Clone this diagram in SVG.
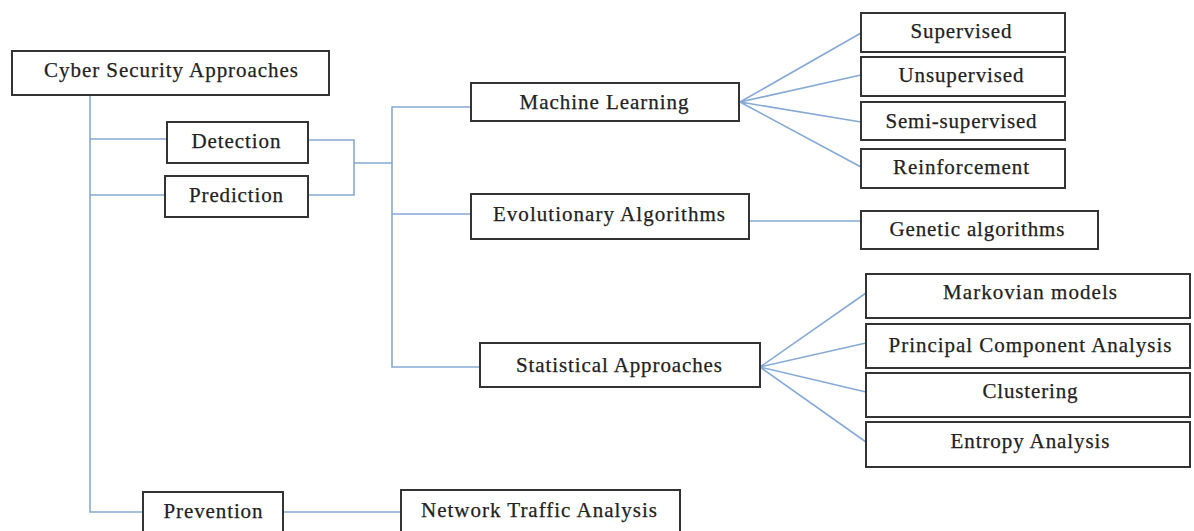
<svg xmlns="http://www.w3.org/2000/svg" width="1194" height="531" viewBox="0 0 1194 531">
<style>
.box{fill:#fff;stroke:#333;stroke-width:2}
.lbl{font-family:"Liberation Serif","Times New Roman",serif;font-size:21px;fill:#222;text-anchor:middle;stroke:#222;stroke-width:0.25}
.con{fill:none;stroke:#86a9d6;stroke-width:1.6}
</style>
<rect width="1194" height="531" fill="#fff"/>
<g id="connectors" class="con">
<path d="M90,95 V512 H143"/>
<path d="M90,139 H167"/>
<path d="M90,195 H165"/>
<path d="M308,140 H354 V195 H308"/>
<path d="M354,163 H392"/>
<path d="M471,107 H392 V367 H480"/>
<path d="M392,214 H471"/>
<path d="M749,221 H861"/>
<path d="M283,512 H401"/>
<path d="M740,102 L861,33 M740,102 L861,75 M740,102 L861,122 M740,102 L861,167"/>
<path d="M760,367 L866,293 M760,367 L866,343 M760,367 L866,392 M760,367 L866,442"/>
</g>
<g id="root"><rect class="box" x="12" y="51" width="317" height="44"/><text class="lbl" x="171" y="77" textLength="254" lengthAdjust="spacing">Cyber Security Approaches</text></g>
<g id="detection"><rect class="box" x="167" y="122" width="141" height="41"/><text class="lbl" x="236" y="148" textLength="89" lengthAdjust="spacing">Detection</text></g>
<g id="prediction"><rect class="box" x="165" y="176" width="143" height="41"/><text class="lbl" x="236" y="202" textLength="94" lengthAdjust="spacing">Prediction</text></g>
<g id="prevention"><rect class="box" x="143" y="492" width="140" height="50"/><text class="lbl" x="213" y="518" textLength="99" lengthAdjust="spacing">Prevention</text></g>
<g id="network-traffic"><rect class="box" x="401" y="490" width="279" height="52"/><text class="lbl" x="539" y="517" textLength="236" lengthAdjust="spacing">Network Traffic Analysis</text></g>
<g id="machine-learning"><rect class="box" x="471" y="83" width="268" height="38"/><text class="lbl" x="604" y="109" textLength="169" lengthAdjust="spacing">Machine Learning</text></g>
<g id="evolutionary"><rect class="box" x="471" y="194" width="278" height="45"/><text class="lbl" x="609" y="221" textLength="232" lengthAdjust="spacing">Evolutionary Algorithms</text></g>
<g id="statistical"><rect class="box" x="480" y="343" width="280" height="44"/><text class="lbl" x="619" y="372" textLength="206" lengthAdjust="spacing">Statistical Approaches</text></g>
<g id="supervised"><rect class="box" x="861" y="13" width="204" height="39"/><text class="lbl" x="961" y="38" textLength="101" lengthAdjust="spacing">Supervised</text></g>
<g id="unsupervised"><rect class="box" x="861" y="57" width="204" height="39"/><text class="lbl" x="961" y="82" textLength="125" lengthAdjust="spacing">Unsupervised</text></g>
<g id="semi-supervised"><rect class="box" x="861" y="102" width="204" height="38"/><text class="lbl" x="961" y="128" textLength="151" lengthAdjust="spacing">Semi-supervised</text></g>
<g id="reinforcement"><rect class="box" x="861" y="149" width="204" height="39"/><text class="lbl" x="961" y="174" textLength="136" lengthAdjust="spacing">Reinforcement</text></g>
<g id="genetic"><rect class="box" x="861" y="211" width="237" height="38"/><text class="lbl" x="977" y="236" textLength="175" lengthAdjust="spacing">Genetic algorithms</text></g>
<g id="markovian"><rect class="box" x="866" y="274" width="324" height="44"/><text class="lbl" x="1030" y="299" textLength="174" lengthAdjust="spacing">Markovian models</text></g>
<g id="pca"><rect class="box" x="866" y="324" width="324" height="44"/><text class="lbl" x="1030" y="352" textLength="283" lengthAdjust="spacing">Principal Component Analysis</text></g>
<g id="clustering"><rect class="box" x="866" y="373" width="324" height="44"/><text class="lbl" x="1030" y="398" textLength="95" lengthAdjust="spacing">Clustering</text></g>
<g id="entropy"><rect class="box" x="866" y="422" width="324" height="45"/><text class="lbl" x="1030" y="448" textLength="159" lengthAdjust="spacing">Entropy Analysis</text></g>
</svg>
